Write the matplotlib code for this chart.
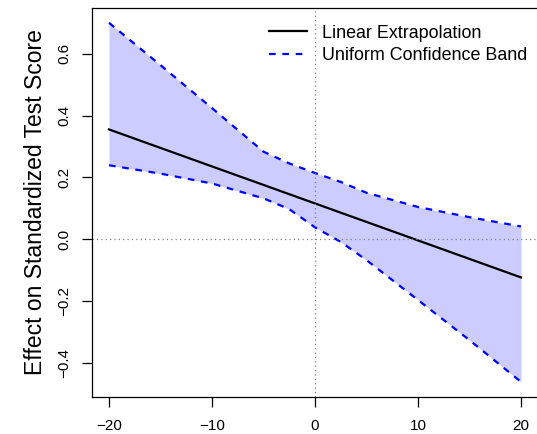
import numpy as np
import matplotlib
matplotlib.use("Agg")
import matplotlib.pyplot as plt

plt.rcParams['font.family'] = ['Liberation Sans', 'DejaVu Sans']

# band
band_x = [-20, -15, -10, -5, -2.5, 0, 2.5, 5, 10, 15, 20]
upper = [0.700, 0.563, 0.424, 0.283, 0.245, 0.214, 0.185, 0.150, 0.104, 0.071, 0.041]
lower = [0.239, 0.212, 0.180, 0.132, 0.097, 0.038, -0.009, -0.068, -0.197, -0.327, -0.462]

# linear extrapolation
line_x = [-20, 20]
line_y = [0.355, -0.124]

xticks = [-20, -10, 0, 10, 20]
yticks = [-0.4, -0.2, 0.0, 0.2, 0.4, 0.6]

fig = plt.figure(figsize=(5.37, 4.34), dpi=100)
ax = fig.add_axes([92/537, 37/434, 446/537, 389/434])

ax.fill_between(band_x, lower, upper, color='#ccccff', lw=0)
ax.plot(band_x, upper, color='blue', lw=1.6, ls=(0, (3, 3)))
ax.plot(band_x, lower, color='blue', lw=1.6, ls=(0, (3, 3)))
ax.plot(line_x, line_y, color='black', lw=1.6)
ax.axhline(0, color='gray', lw=0.9, ls=(0, (1, 2.5)))
ax.axvline(0, color='gray', lw=0.9, ls=(0, (1, 2.5)))

ax.set_xlim(-21.65, 21.65)
ax.set_ylim(-0.511, 0.748)
ax.set_xticks(xticks)
ax.set_xticklabels(['\u221220', '\u221210', '0', '10', '20'])
ax.set_yticks(yticks)
ax.set_yticklabels(['\u22120.4', '\u22120.2', '0.0', '0.2', '0.4', '0.6'],
                   rotation=90, va='center')
ax.tick_params(direction='out', length=7, width=0.9, labelsize=11)
ax.tick_params(axis='x', pad=9)
ax.tick_params(axis='y', pad=8)
for s in ax.spines.values():
    s.set_linewidth(0.9)

ax.set_ylabel('Effect on Standardized Test Score', fontsize=16.5, labelpad=7)

ax.plot([], [], color='black', lw=1.6, label='Linear Extrapolation')
ax.plot([], [], color='blue', lw=1.6, ls=(0, (3, 3)), label='Uniform Confidence Band')
h, l = ax.get_legend_handles_labels()
ax.legend(h[-2:], l[-2:], loc='upper left', bbox_to_anchor=(164/446, 1 - 4/389),
          frameon=False, fontsize=12.9, handlelength=2.15, handletextpad=0.85,
          labelspacing=0.3, borderaxespad=0.3)

fig.savefig('out.png', dpi=100)
